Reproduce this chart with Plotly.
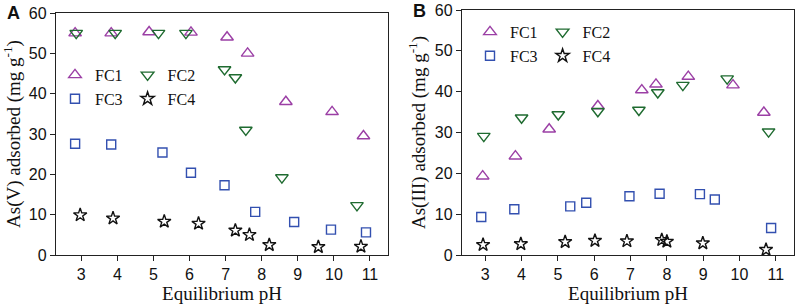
import plotly.graph_objects as go

# ---- Data: panel A, As(V) ----
a_fc1_ph = [2.83, 3.83, 4.88, 6.04, 7.04, 7.61, 8.67, 9.95, 10.82]
a_fc1_q  = [55.0, 55.0, 55.3, 55.2, 54.0, 50.0, 38.0, 35.5, 29.5]
a_fc2_ph = [2.86, 3.94, 5.14, 5.90, 6.97, 7.27, 7.56, 8.56, 10.64]
a_fc2_q  = [55.0, 55.0, 55.0, 55.0, 46.0, 44.0, 31.0, 19.2, 12.3]
a_fc3_ph = [2.83, 3.83, 5.25, 6.04, 6.97, 7.82, 8.90, 9.92, 10.89]
a_fc3_q  = [27.6, 27.4, 25.4, 20.4, 17.3, 10.7, 8.2, 6.3, 5.6]
a_fc4_ph = [2.97, 3.88, 5.30, 6.25, 7.27, 7.66, 8.21, 9.57, 10.75]
a_fc4_q  = [9.9, 9.1, 8.3, 7.8, 6.1, 5.0, 2.5, 2.0, 2.1]

# ---- Data: panel B, As(III) ----
b_fc1_ph = [2.93, 3.83, 4.76, 6.10, 7.31, 7.70, 8.59, 9.82, 10.67]
b_fc1_q  = [19.3, 24.2, 30.8, 36.5, 40.4, 41.8, 43.7, 41.6, 34.9]
b_fc2_ph = [2.96, 4.00, 5.01, 6.10, 7.23, 7.75, 8.44, 9.66, 10.80]
b_fc2_q  = [29.1, 33.6, 34.4, 35.2, 35.5, 39.8, 41.6, 43.2, 30.2]
b_fc3_ph = [2.89, 3.80, 5.34, 5.78, 6.97, 7.80, 8.91, 9.32, 10.87]
b_fc3_q  = [9.3, 11.2, 11.9, 12.8, 14.4, 15.0, 14.9, 13.6, 6.6]
b_fc4_ph = [2.94, 3.98, 5.20, 6.02, 6.90, 7.86, 8.00, 8.99, 10.73]
b_fc4_q  = [2.5, 2.7, 3.2, 3.5, 3.4, 3.7, 3.3, 2.9, 1.3]

series_names = ["FC1", "FC2", "FC3", "FC4"]
x_ticks = [3, 4, 5, 6, 7, 8, 9, 10, 11]
y_ticks = [0, 10, 20, 30, 40, 50, 60]

styles = {
    "FC1": dict(symbol="triangle-up-open", color="#9B3FA5", size=11),
    "FC2": dict(symbol="triangle-down-open", color="#1F6B30", size=11),
    "FC3": dict(symbol="square-open", color="#3350B0", size=9),
    "FC4": dict(symbol="star-open", color="#111111", size=10),
}
groups = {"FC1": "g1", "FC2": "g2", "FC3": "g1", "FC4": "g2"}

W, H = 796, 304
ML, MR, MT, MB = 56, 2, 10, 49
PW, PH = W - ML - MR, H - MT - MB


def px_to_paper(px, py):
    return (px - ML) / PW, 1 - (py - MT) / PH


fig = go.Figure()

panelA = [(a_fc1_ph, a_fc1_q), (a_fc2_ph, a_fc2_q), (a_fc3_ph, a_fc3_q), (a_fc4_ph, a_fc4_q)]
panelB = [(b_fc1_ph, b_fc1_q), (b_fc2_ph, b_fc2_q), (b_fc3_ph, b_fc3_q), (b_fc4_ph, b_fc4_q)]

for prefix, panel, xa, ya, leg in [("A", panelA, "x", "y", "legend"), ("B", panelB, "x2", "y2", "legend2")]:
    for name, (xs, ys) in zip(series_names, panel):
        s = styles[name]
        fig.add_trace(go.Scatter(
            x=xs, y=ys, mode="markers", name=name, xaxis=xa, yaxis=ya,
            legend=leg, legendgroup=prefix + groups[name],
            marker=dict(symbol=s["symbol"], size=s["size"], color=s["color"],
                        line=dict(width=1.4, color=s["color"])),
            cliponaxis=False,
        ))

tickfont = dict(family="Liberation Sans, Arial", size=16, color="#111")
titlefont = dict(family="Liberation Serif, Times New Roman", size=19, color="#111")
legfont = dict(family="Liberation Serif, Times New Roman", size=16, color="#111")

xcommon = dict(
    showline=True, linecolor="#222", linewidth=1.3, mirror=True,
    ticks="outside", ticklen=5, tickwidth=1.2, tickcolor="#222",
    tickvals=x_ticks, tickfont=tickfont, showgrid=False, zeroline=False,
    automargin=False,
    title=dict(text="Equilibrium pH", font=titlefont, standoff=0),
)
ycommon = dict(
    showline=True, linecolor="#222", linewidth=1.3, mirror=True,
    ticks="outside", ticklen=5, tickwidth=1.2, tickcolor="#222",
    tickvals=y_ticks, tickfont=tickfont, showgrid=False, zeroline=False,
    automargin=False, range=[0, 60],
)

legend_common = dict(
    orientation="h", traceorder="grouped", font=legfont,
    bgcolor="rgba(0,0,0,0)", itemwidth=30, tracegroupgap=4,
    xanchor="left", yanchor="top", itemclick=False, itemdoubleclick=False,
)

lAx, lAy = px_to_paper(55, 58)
lBx, lBy = px_to_paper(470, 15)
ax_top = px_to_paper(0, 13)[1]

fig.update_layout(
    width=W, height=H,
    margin=dict(l=ML, r=MR, t=MT, b=MB, autoexpand=False),
    paper_bgcolor="white", plot_bgcolor="white",
    xaxis=dict(domain=[0, (388 - ML) / PW], range=[2.3, 11.5], anchor="y", **xcommon),
    yaxis=dict(domain=[0, ax_top], anchor="x",
               title=dict(text="As(V) adsorbed (mg g<sup>-1</sup>)", font=titlefont, standoff=4),
               **ycommon),
    xaxis2=dict(domain=[(462 - ML) / PW, 1.0], range=[2.36, 11.5], anchor="y2", **xcommon),
    yaxis2=dict(domain=[0, 1.0], anchor="x2",
                title=dict(text="As(III) adsorbed (mg g<sup>-1</sup>)", font=titlefont, standoff=4),
                **ycommon),
    legend=dict(x=lAx, y=lAy, **legend_common),
    legend2=dict(x=lBx, y=lBy, **legend_common),
    showlegend=True,
)

ax, ay = px_to_paper(13, 13)
bx, by = px_to_paper(419, 11)
for txt, x, y in [("A", ax, ay), ("B", bx, by)]:
    fig.add_annotation(text="<b>%s</b>" % txt, x=x, y=y, xref="paper", yref="paper",
                       showarrow=False, xanchor="center", yanchor="middle",
                       font=dict(family="Liberation Sans, Arial", size=18, color="#111"))

fig.write_html("out.html", config={"displayModeBar": False},
               post_script="document.body.style.margin='0';document.body.style.overflow='hidden';")
